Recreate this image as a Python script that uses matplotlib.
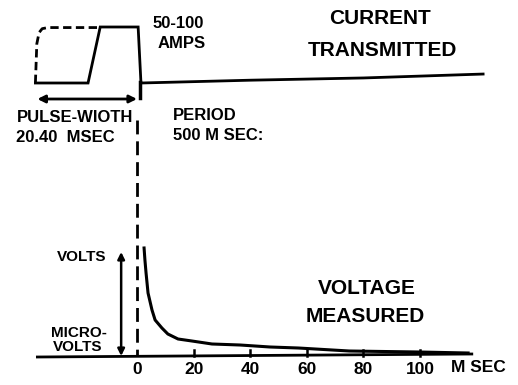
import numpy as np
import matplotlib.pyplot as plt

plt.rcParams["font.family"] = ["Liberation Sans", "DejaVu Sans"]
plt.rcParams["font.weight"] = "bold"

# Transmitted current (relative amplitude, 1 = full 50-100 A)
pulse_t = [-35.9, -17.3, -13.0, 0.4, 1.4, 40.0, 80.0, 122.3]
pulse_amp = [0.0, 0.0, 1.0, 1.0, 0.0, 0.05, 0.09, 0.16]
early_t = [-35.9, -35.4, -34.6, -33.5, -31.5, -13.7]
early_amp = [0.0, 0.70, 0.90, 0.97, 0.99, 0.99]

# Measured voltage decay after turn-off (relative units)
decay_t = [2.5, 2.8, 3.2, 3.9, 5.3, 6.4, 8.8, 10.9, 14.5, 19.4, 26.5, 36.4, 47.0, 57.0,
           75.0, 99.6, 117.0]
decay_v = [108, 96, 83, 63, 46, 36, 28, 22, 17, 15, 12, 11, 9, 8, 5, 4, 3]

tick_ms = [20, 40, 60, 80, 100]
tick_labels = ["0", "20", "40", "60", "80", "100"]

CUR_BASE, CUR_SCALE = 302, 56
VOLT_BASE = 29
px = 2.83  # pixels per millisecond

fig = plt.figure(figsize=(5.18, 3.85), dpi=100)
ax = fig.add_axes([0, 0, 1, 1])
ax.set_xlim(-137 / px, (518 - 137) / px)
ax.set_ylim(0, 385)
ax.axis("off")

# current waveforms
ax.plot(pulse_t, CUR_BASE + CUR_SCALE * np.array(pulse_amp), color="black", lw=2.0,
        solid_joinstyle="miter")
ax.plot(early_t, CUR_BASE + CUR_SCALE * np.array(early_amp), color="black", lw=2.0,
        ls=(0, (3, 1.6)))

# pulse width arrow
ax.annotate("", xy=(0, 286), xytext=(-35.2, 286),
            arrowprops=dict(arrowstyle="<|-|>", color="black", lw=2, mutation_scale=11,
                            shrinkA=0, shrinkB=0))

# turn-off marker
ax.plot([0.9, 0.9], [CUR_BASE + 1, 287], color="black", lw=2.5)
ax.plot([0, 0], [265, VOLT_BASE], color="black", lw=2.0, ls=(0, (5, 2.5)))

# time axis
ax.plot([-35.2, 118.3], [VOLT_BASE - 1, VOLT_BASE + 2], color="black", lw=2.0)
for t in tick_ms:
    ax.plot([t, t], [VOLT_BASE, VOLT_BASE + 6], color="black", lw=1.8)
for t, lab in zip([0] + tick_ms, tick_labels):
    ax.text(t, 16, lab, ha="center", va="center", fontsize=12.5, fontweight="bold")
ax.text(111.0, 17, "M SEC", ha="left", va="center", fontsize=12.5, fontweight="bold")

# voltage decay
ax.plot(decay_t, VOLT_BASE + np.array(decay_v), color="black", lw=2.2,
        solid_joinstyle="round")

# volts / microvolts range arrow
ax.annotate("", xy=(-5.6, 133), xytext=(-5.6, VOLT_BASE),
            arrowprops=dict(arrowstyle="<|-|>", color="black", lw=1.8, mutation_scale=10,
                            shrinkA=0, shrinkB=0))

txt = dict(fontweight="bold", va="center")
ax.text(5.65, 362, "50-100", ha="left", fontsize=12, **txt)
ax.text(7.1, 342, "AMPS", ha="left", fontsize=12, **txt)
ax.text(-42.4, 268, "PULSE-WIOTH", ha="left", fontsize=12, **txt)
ax.text(-42.8, 247, "20.40  MSEC", ha="left", fontsize=12, **txt)
ax.text(12.7, 270, "PERIOD", ha="left", fontsize=12, **txt)
ax.text(12.7, 249, "500 M SEC:", ha="left", fontsize=12, **txt)
ax.text(85.9, 367, "CURRENT", ha="center", fontsize=15, **txt)
ax.text(86.9, 335, "TRANSMITTED", ha="center", fontsize=15, **txt)
ax.text(81.3, 97, "VOLTAGE", ha="center", fontsize=15, **txt)
ax.text(80.6, 69, "MEASURED", ha="center", fontsize=15, **txt)
ax.text(-28.3, 128, "VOLTS", ha="left", fontsize=11, **txt)
ax.text(-30.4, 52, "MICRO-", ha="left", fontsize=11, **txt)
ax.text(-29.7, 38, "VOLTS", ha="left", fontsize=11, **txt)

fig.savefig("out.png", dpi=100)
